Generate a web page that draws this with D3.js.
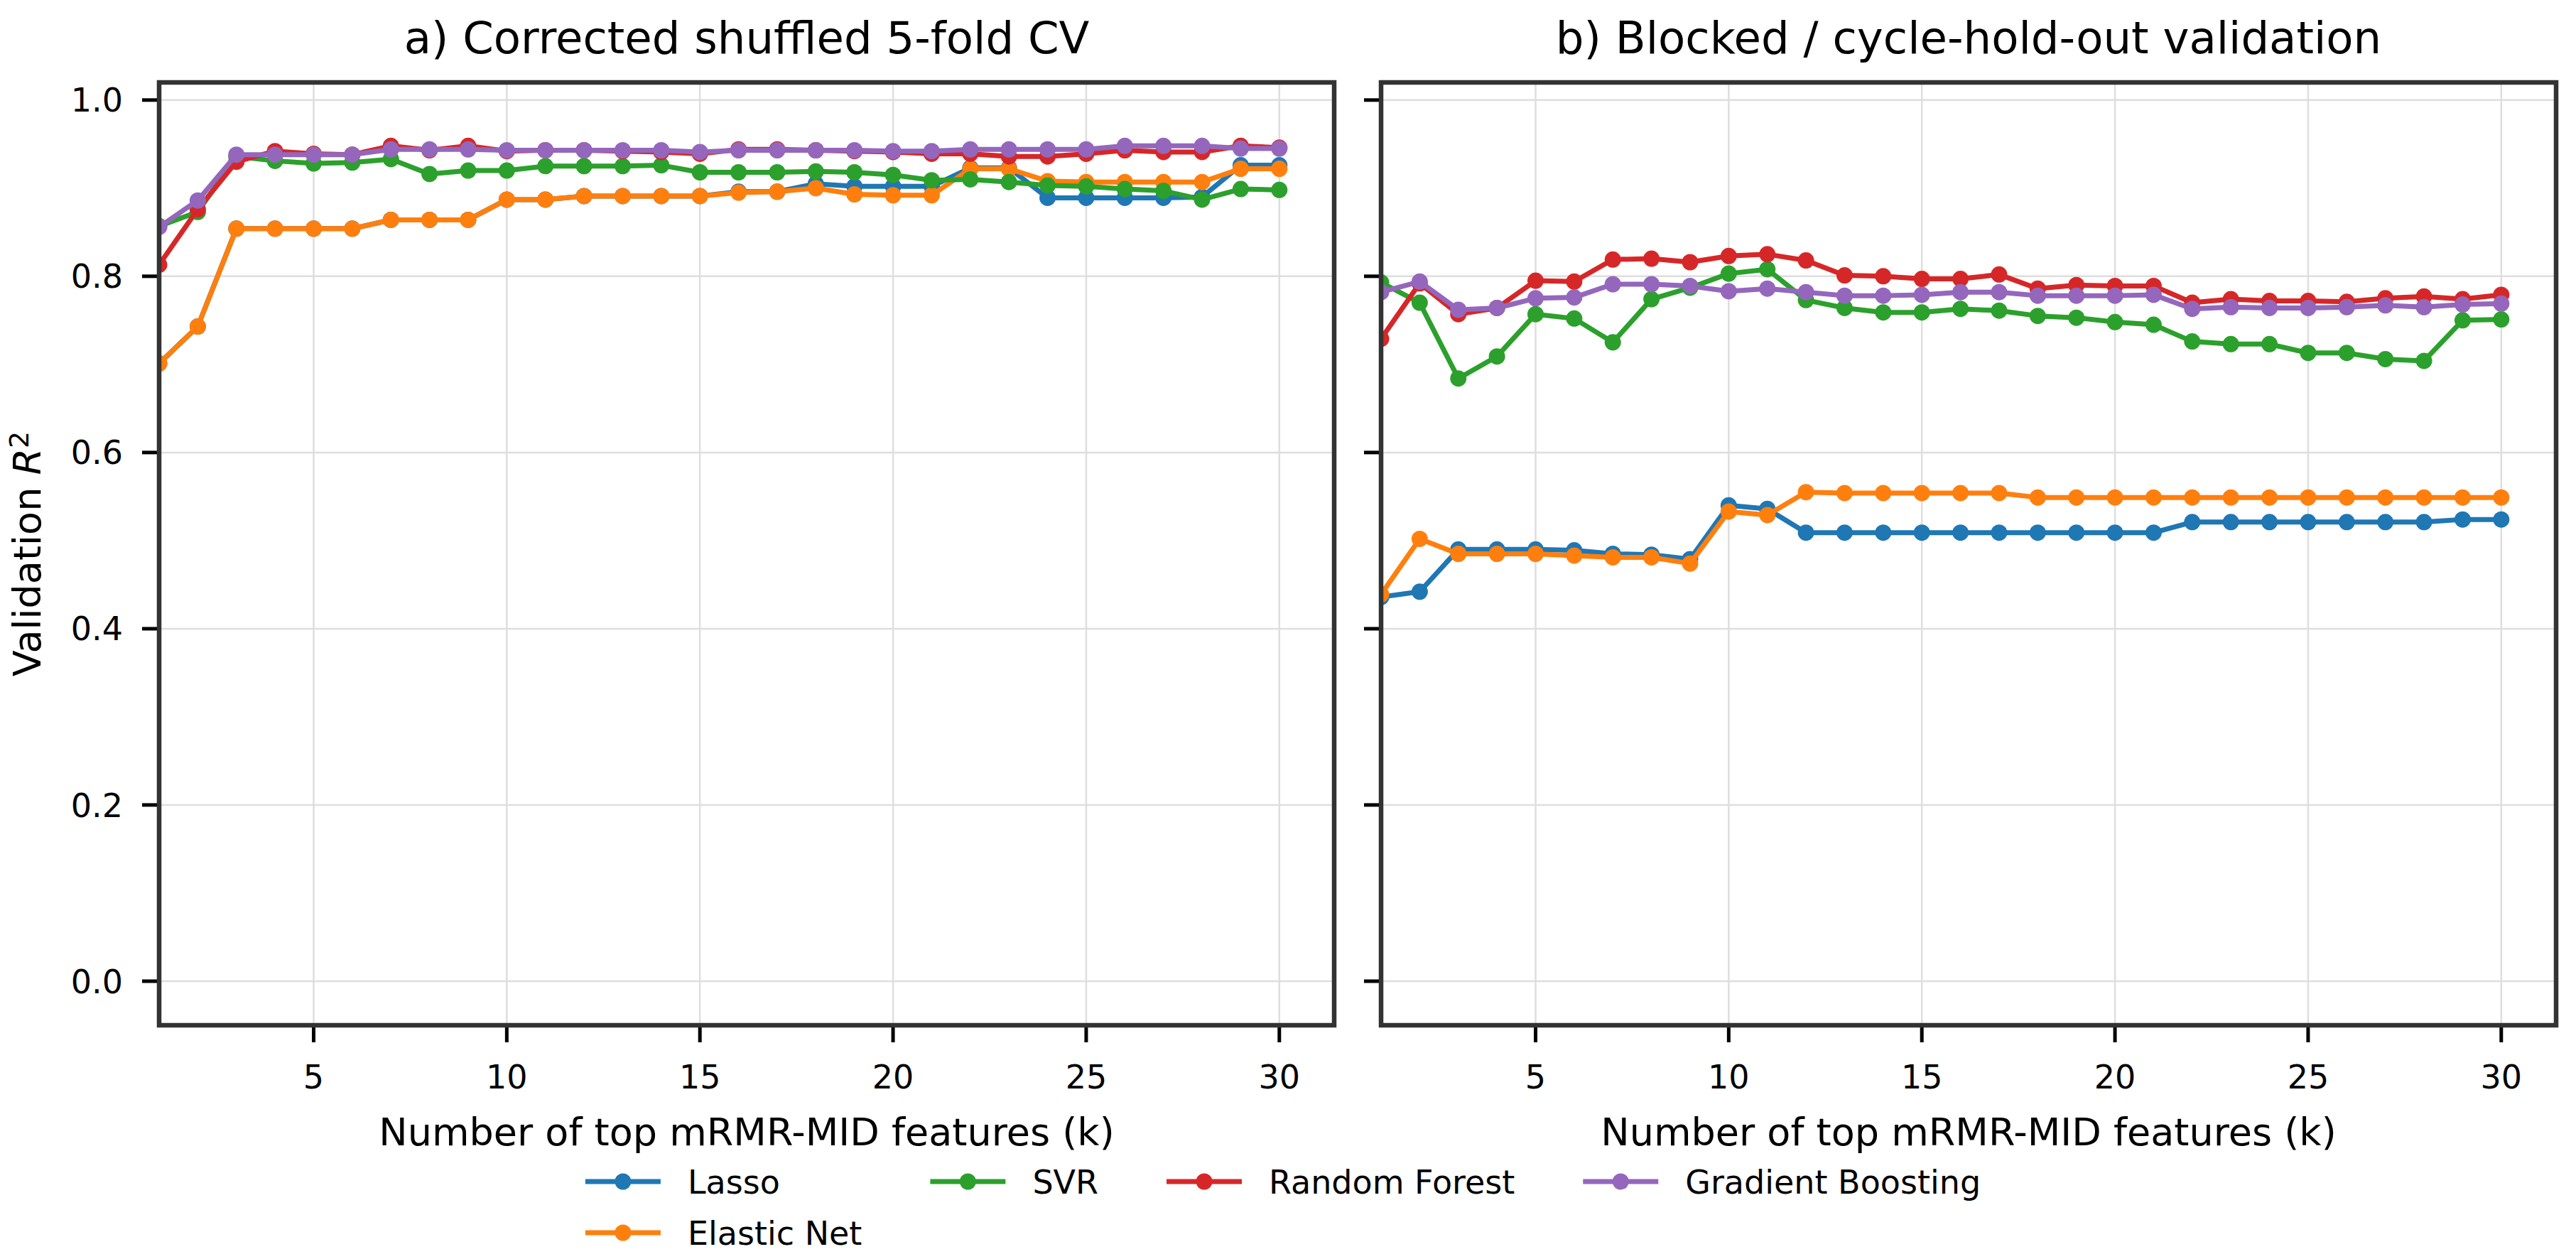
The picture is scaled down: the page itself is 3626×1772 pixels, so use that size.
<!doctype html>
<html>
  <head>
    <script src="https://cdn.jsdelivr.net/npm/d3@7"></script>
    <style>
      body { margin: 0; background: #fff; }
      text { font-family: "DejaVu Sans", sans-serif; fill: #000; }
    </style>
  </head>
  <body>
    <svg width="3626" height="1772"></svg>

    <script type="text/javascript">

        // number of selected features
        var ks = d3.range(1, 31);
        var models = ["Lasso", "Elastic Net", "SVR", "Random Forest", "Gradient Boosting"];
        var colors = ["#1f77b4", "#ff7f0e", "#2ca02c", "#d62728", "#9467bd"];
        var yTicks = [0.0, 0.2, 0.4, 0.6, 0.8, 1.0];
        var xTicks = [5, 10, 15, 20, 25, 30];
        var titles = ["a) Corrected shuffled 5-fold CV", "b) Blocked / cycle-hold-out validation"];

        // a) shuffled CV
        var shufLasso = [0.701, 0.743, 0.854, 0.854, 0.854, 0.854, 0.864, 0.864, 0.864, 0.887, 0.887, 0.891, 0.891, 0.891, 0.891, 0.896, 0.896, 0.905, 0.902, 0.902, 0.902, 0.923, 0.923, 0.889, 0.889, 0.889, 0.889, 0.890, 0.926, 0.926];
        var shufEnet  = [0.701, 0.743, 0.854, 0.854, 0.854, 0.854, 0.864, 0.864, 0.864, 0.887, 0.887, 0.891, 0.891, 0.891, 0.891, 0.895, 0.896, 0.900, 0.893, 0.892, 0.892, 0.922, 0.922, 0.908, 0.907, 0.907, 0.907, 0.907, 0.922, 0.922];
        var shufSvr   = [0.857, 0.873, 0.936, 0.931, 0.928, 0.929, 0.933, 0.916, 0.920, 0.920, 0.925, 0.925, 0.925, 0.926, 0.918, 0.918, 0.918, 0.919, 0.918, 0.915, 0.909, 0.910, 0.907, 0.903, 0.902, 0.899, 0.897, 0.887, 0.899, 0.898];
        var shufRf    = [0.813, 0.876, 0.930, 0.942, 0.939, 0.938, 0.948, 0.943, 0.948, 0.942, 0.943, 0.943, 0.942, 0.941, 0.939, 0.944, 0.944, 0.943, 0.942, 0.941, 0.939, 0.939, 0.936, 0.936, 0.939, 0.943, 0.941, 0.941, 0.948, 0.946];
        var shufGb    = [0.856, 0.886, 0.938, 0.938, 0.938, 0.938, 0.944, 0.944, 0.944, 0.943, 0.943, 0.943, 0.943, 0.943, 0.941, 0.943, 0.943, 0.943, 0.943, 0.942, 0.942, 0.944, 0.944, 0.944, 0.944, 0.948, 0.948, 0.948, 0.945, 0.945];

        // b) blocked validation
        var blkLasso = [0.436, 0.442, 0.490, 0.490, 0.490, 0.489, 0.485, 0.484, 0.479, 0.540, 0.536, 0.509, 0.509, 0.509, 0.509, 0.509, 0.509, 0.509, 0.509, 0.509, 0.509, 0.521, 0.521, 0.521, 0.521, 0.521, 0.521, 0.521, 0.524, 0.524];
        var blkEnet  = [0.439, 0.502, 0.485, 0.485, 0.485, 0.483, 0.481, 0.481, 0.474, 0.533, 0.529, 0.555, 0.554, 0.554, 0.554, 0.554, 0.554, 0.549, 0.549, 0.549, 0.549, 0.549, 0.549, 0.549, 0.549, 0.549, 0.549, 0.549, 0.549, 0.549];
        var blkSvr   = [0.793, 0.770, 0.684, 0.709, 0.757, 0.752, 0.725, 0.774, 0.787, 0.803, 0.808, 0.773, 0.764, 0.759, 0.759, 0.763, 0.761, 0.755, 0.753, 0.748, 0.745, 0.726, 0.723, 0.723, 0.713, 0.713, 0.706, 0.704, 0.750, 0.751];
        var blkRf    = [0.729, 0.792, 0.757, 0.764, 0.795, 0.794, 0.819, 0.820, 0.816, 0.823, 0.825, 0.818, 0.801, 0.800, 0.797, 0.797, 0.802, 0.786, 0.790, 0.789, 0.789, 0.770, 0.774, 0.772, 0.772, 0.771, 0.775, 0.777, 0.774, 0.779];
        var blkGb    = [0.782, 0.794, 0.762, 0.764, 0.775, 0.776, 0.791, 0.791, 0.789, 0.783, 0.786, 0.782, 0.778, 0.778, 0.779, 0.782, 0.782, 0.778, 0.778, 0.778, 0.779, 0.763, 0.765, 0.764, 0.764, 0.765, 0.767, 0.765, 0.768, 0.769];

        var panels = [
            [shufLasso, shufEnet, shufSvr, shufRf, shufGb],
            [blkLasso, blkEnet, blkSvr, blkRf, blkGb]
        ];

        var svg = d3.select("svg");
        var plotTop = 116, plotBottom = 1443, panelW = 1654;
        var lefts = [224, 1944];

        var y = d3.scaleLinear().domain([-0.05, 1.02]).range([plotBottom, plotTop]);

        panels.forEach(function(series, p) {
            var x = d3.scaleLinear().domain([1, 31.42]).range([lefts[p], lefts[p] + panelW]);
            var g = svg.append("g");

            g.append("clipPath").attr("id", "clip" + p)
              .append("rect")
                .attr("x", lefts[p]).attr("y", plotTop)
                .attr("width", panelW).attr("height", plotBottom - plotTop);

            // grid
            g.append("g").selectAll("line").data(xTicks).enter().append("line")
                .attr("x1", d => x(d)).attr("x2", d => x(d))
                .attr("y1", plotTop).attr("y2", plotBottom)
                .attr("stroke", "#dedede").attr("stroke-width", 2.5);
            g.append("g").selectAll("line").data(yTicks).enter().append("line")
                .attr("x1", lefts[p]).attr("x2", lefts[p] + panelW)
                .attr("y1", d => y(d)).attr("y2", d => y(d))
                .attr("stroke", "#dedede").attr("stroke-width", 2.5);

            // series
            var line = d3.line().x((d, i) => x(ks[i])).y(d => y(d));
            var plot = g.append("g").attr("clip-path", "url(#clip" + p + ")");
            series.forEach(function(vals, s) {
                var sg = plot.append("g");
                sg.append("path").datum(vals)
                    .attr("d", line)
                    .attr("fill", "none")
                    .attr("stroke", colors[s])
                    .attr("stroke-width", 7)
                    .attr("stroke-linejoin", "round")
                    .attr("stroke-linecap", "square");
                sg.selectAll("circle").data(vals).enter().append("circle")
                    .attr("cx", (d, i) => x(ks[i]))
                    .attr("cy", d => y(d))
                    .attr("r", 11.5)
                    .attr("fill", colors[s]);
            });

            // ticks
            g.append("g").selectAll("line").data(xTicks).enter().append("line")
                .attr("x1", d => x(d)).attr("x2", d => x(d))
                .attr("y1", plotBottom).attr("y2", plotBottom + 24)
                .attr("stroke", "#000").attr("stroke-width", 5);
            g.append("g").selectAll("text").data(xTicks).enter().append("text")
                .attr("x", d => x(d)).attr("y", 1532)
                .attr("text-anchor", "middle")
                .style("font-size", "46px")
                .text(d => d);
            g.append("g").selectAll("line").data(yTicks).enter().append("line")
                .attr("x1", lefts[p] - 24).attr("x2", lefts[p])
                .attr("y1", d => y(d)).attr("y2", d => y(d))
                .attr("stroke", "#000").attr("stroke-width", 5);
            if (p === 0) {
                g.append("g").selectAll("text").data(yTicks).enter().append("text")
                    .attr("x", 173).attr("y", d => y(d))
                    .attr("dy", "0.36em")
                    .attr("text-anchor", "end")
                    .style("font-size", "46px")
                    .text(d => d3.format(".1f")(d));
            }

            // frame
            g.append("rect")
                .attr("x", lefts[p]).attr("y", plotTop)
                .attr("width", panelW).attr("height", plotBottom - plotTop)
                .attr("fill", "none").attr("stroke", "#333").attr("stroke-width", 6.5);

            // title and x label
            g.append("text")
                .attr("x", lefts[p] + panelW / 2).attr("y", 75)
                .attr("text-anchor", "middle")
                .style("font-size", "62.5px")
                .text(titles[p]);
            g.append("text")
                .attr("x", lefts[p] + panelW / 2).attr("y", 1612)
                .attr("text-anchor", "middle")
                .style("font-size", "54px")
                .text("Number of top mRMR-MID features (k)");
        });

        // y label
        var yl = svg.append("text")
            .attr("transform", "translate(57," + ((plotTop + plotBottom) / 2) + ") rotate(-90)")
            .attr("text-anchor", "middle")
            .style("font-size", "54px");
        yl.append("tspan").text("Validation ");
        yl.append("tspan").style("font-style", "italic").text("R");
        yl.append("tspan").attr("dy", "-0.45em").style("font-size", "38px").text("2");

        // legend: 4 columns, filled column by column
        var cols = [[0, 1], [2], [3], [4]];
        var handleLen = 106, handlePad = 38, colSpace = 96;
        var rowY = [1663, 1735];
        var leg = svg.append("g");
        var tmp = leg.append("text").style("font-size", "46px");
        var colW = cols.map(function(c) {
            return handleLen + handlePad + d3.max(c, function(i) {
                tmp.text(models[i]);
                return tmp.node().getComputedTextLength();
            });
        });
        tmp.remove();
        var total = d3.sum(colW) + colSpace * (cols.length - 1);
        var cx = 1806 - total / 2;
        cols.forEach(function(c, ci) {
            c.forEach(function(i, ri) {
                var item = leg.append("g").attr("transform", "translate(" + cx + "," + rowY[ri] + ")");
                item.append("line")
                    .attr("x1", 0).attr("x2", handleLen)
                    .attr("stroke", colors[i]).attr("stroke-width", 7);
                item.append("circle")
                    .attr("cx", handleLen / 2).attr("r", 11.5)
                    .attr("fill", colors[i]);
                item.append("text")
                    .attr("x", handleLen + handlePad).attr("dy", "0.36em")
                    .style("font-size", "46px")
                    .text(models[i]);
            });
            cx += colW[ci] + colSpace;
        });

    </script>
  </body>
</html>
